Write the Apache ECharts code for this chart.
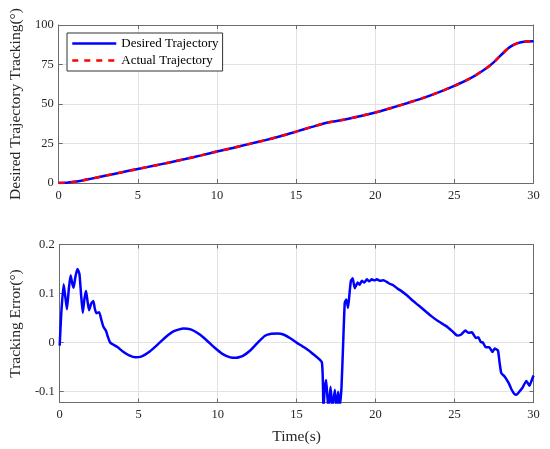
<!DOCTYPE html>
<html>
<head>
<meta charset="utf-8">
<script src="https://cdn.jsdelivr.net/npm/echarts@6/dist/echarts.min.js"></script>
<style>
html,body{margin:0;padding:0;background:#fff;}
#c{width:550px;height:449px;}
</style>
</head>
<body>
<div id="c"></div>
<script>
// ---- data ----
const trajTime = [0,0.5,1,1.5,2,3,4,5,6,7,8,9,10,11,12,13,14,15,16,17,18,19,20,21,22,23,24,25,26,27,27.5,28,28.5,29,29.5,30];
const desiredTraj = [0,0.2,0.8,1.6,2.6,4.7,6.8,8.9,10.9,13,15.2,17.5,19.9,22.2,24.6,27,29.6,32.5,35.5,38.3,40,42.2,44.6,47.5,50.5,53.7,57.4,61.5,66.2,72.5,76.5,81.5,86,88.5,89.5,89.7];
const actualTraj  = [0,0.2,0.8,1.6,2.6,4.7,6.8,8.9,10.9,13,15.2,17.5,19.9,22.2,24.6,27,29.6,32.5,35.5,38.3,40,42.2,44.6,47.5,50.5,53.7,57.4,61.5,66.2,72.5,76.5,81.5,86,88.5,89.5,89.7];

const errTime = [0,0.1,0.25,0.35,0.46,0.58,0.69,0.8,0.88,1.0,1.13,1.25,1.35,1.46,1.57,1.67,1.76,1.86,2.0,2.13,2.22,2.32,2.5,2.65,2.76,2.93,3.05,3.2,3.66,4.0,4.4,4.81,5.2,5.7,6.2,6.7,7.2,7.84,8.3,8.8,9.3,9.8,10.3,10.8,11.19,11.6,12.1,12.6,13.0,13.4,13.8,14.2,14.6,15.0,15.5,16.0,16.6,16.7,16.78,16.87,16.95,17.02,17.15,17.27,17.42,17.55,17.63,17.72,17.84,17.95,18.05,18.15,18.26,18.35,18.44,18.55,18.68,18.87,19.0,19.13,19.28,19.45,19.6,19.76,19.93,20.08,20.3,20.5,20.7,20.9,21.12,21.4,21.64,22.0,22.27,22.6,22.9,23.2,23.53,23.95,24.3,24.57,24.9,25.16,25.4,25.68,25.9,26.1,26.35,26.5,26.66,26.8,26.98,27.2,27.4,27.54,27.75,27.85,27.96,28.17,28.44,28.6,28.8,28.93,29.1,29.28,29.55,29.74,29.85,30];
const errValue = [-0.006,0.06,0.119,0.095,0.068,0.11,0.1375,0.12,0.112,0.135,0.15,0.14,0.1,0.061,0.09,0.105,0.085,0.066,0.08,0.085,0.07,0.06,0.062,0.045,0.033,0.024,0.012,0.0,-0.009,-0.018,-0.026,-0.03,-0.028,-0.018,-0.004,0.011,0.023,0.029,0.027,0.018,0.005,-0.01,-0.023,-0.03,-0.031,-0.027,-0.015,0.002,0.014,0.018,0.0185,0.016,0.009,0.0,-0.01,-0.022,-0.04,-0.135,-0.095,-0.076,-0.11,-0.135,-0.09,-0.135,-0.096,-0.135,-0.1,-0.13,-0.093,0.0,0.0815,0.088,0.071,0.1,0.126,0.131,0.111,0.1225,0.118,0.126,0.1225,0.129,0.125,0.129,0.127,0.129,0.126,0.127,0.124,0.12,0.117,0.11,0.105,0.096,0.088,0.079,0.071,0.063,0.054,0.044,0.037,0.0315,0.022,0.0145,0.016,0.0245,0.02,0.021,0.0095,0.011,0.0015,0.0,-0.0095,-0.0095,-0.019,-0.012,-0.016,-0.04,-0.062,-0.069,-0.083,-0.095,-0.105,-0.106,-0.1,-0.093,-0.078,-0.088,-0.08,-0.067];

const xTicks = {min:0, max:30, interval:5};
const topY = {min:0, max:100, interval:25};
const botY = {min:-0.122, max:0.2, step:0.1};

// ---- styling ----
const FONT = 'Liberation Serif';
const AX = '#6b6b6b';
const TXT = '#262626';
const GRIDC = '#e2e2e2';

function zip(a,b){return a.map((v,i)=>[v,b[i]]);}

function xAx(grid, pos, labels, name){
  return {
    type:'value', gridIndex:grid, position:pos,
    min:xTicks.min, max:xTicks.max, interval:xTicks.interval,
    axisLine:{show:true, onZero:false, lineStyle:{color:AX,width:1}},
    axisTick:{show:true, inside:true, length:4, lineStyle:{color:AX}},
    axisLabel:{show:labels, color:TXT, fontFamily:FONT, fontSize:12.5, margin:6},
    splitLine:{show:labels, lineStyle:{color:GRIDC,width:1}},
    name: name||'', nameLocation:'middle', nameGap:26,
    nameTextStyle:{color:TXT, fontFamily:FONT, fontSize:15.5}
  };
}
function yAxTop(pos, labels, name){
  return {
    type:'value', gridIndex:0, position:pos,
    min:topY.min, max:topY.max, interval:topY.interval,
    axisLine:{show:true, onZero:false, lineStyle:{color:AX,width:1}},
    axisTick:{show:true, inside:true, length:4, lineStyle:{color:AX}},
    axisLabel:{show:labels, color:TXT, fontFamily:FONT, fontSize:12.5, margin:5},
    splitLine:{show:labels, lineStyle:{color:GRIDC,width:1}},
    name: name||'', nameLocation:'middle', nameGap:31,
    nameTextStyle:{color:TXT, fontFamily:FONT, fontSize:15.5}
  };
}
function yAxBot(pos, labels, name){
  return {
    type:'value', gridIndex:1, position:pos,
    min:botY.min, max:botY.max, splitNumber:3,
    minInterval:botY.step, maxInterval:botY.step,
    axisLine:{show:true, onZero:false, lineStyle:{color:AX,width:1}},
    axisTick:{show:true, inside:true, length:4, lineStyle:{color:AX}},
    axisLabel:{show:labels, showMinLabel:false, color:TXT, fontFamily:FONT, fontSize:12.5, margin:5},
    splitLine:{show:labels, lineStyle:{color:GRIDC,width:1}},
    name: name||'', nameLocation:'middle', nameGap:31,
    nameTextStyle:{color:TXT, fontFamily:FONT, fontSize:15.5}
  };
}

const chart = echarts.init(document.getElementById('c'), null, {renderer:'canvas'});
chart.setOption({
  animation:false,
  backgroundColor:'#fff',
  grid:[
    {left:55, right:16.5, top:25, height:158},
    {left:55, right:16.5, top:244.5, height:158}
  ],
  legend:{
    left:67, top:33, orient:'vertical',
    itemWidth:44, itemHeight:14, itemGap:4,
    padding:[4,4,4,4],
    borderColor:'#333', borderWidth:1, backgroundColor:'#fff',
    itemStyle:{opacity:0, borderWidth:0},
    lineStyle:{width:2.5},
    textStyle:{color:'#000', fontFamily:FONT, fontSize:13},
    data:['Desired Trajectory','Actual Trajectory']
  },
  xAxis:[
    xAx(0,'bottom',true),
    xAx(0,'top',false),
    xAx(1,'bottom',true,'Time(s)'),
    xAx(1,'top',false)
  ],
  yAxis:[
    yAxTop('left',true,'Desired Trajectory Tracking(°)'),
    yAxTop('right',false),
    yAxBot('left',true,'Tracking Error(°)'),
    yAxBot('right',false)
  ],
  series:[
    {name:'Desired Trajectory', type:'line', xAxisIndex:0, yAxisIndex:0,
     data:zip(trajTime,desiredTraj), showSymbol:false, symbol:'none', smooth:0.3,
     lineStyle:{color:'#0000ff', width:2.5}, itemStyle:{color:'#0000ff'}, z:3},
    {name:'Actual Trajectory', type:'line', xAxisIndex:0, yAxisIndex:0,
     data:zip(trajTime,actualTraj), showSymbol:false, symbol:'none', smooth:0.3,
     lineStyle:{color:'#ff0000', width:2.5, type:[6,6]}, itemStyle:{color:'#ff0000'}, z:4},
    {name:'Tracking Error', type:'line', xAxisIndex:2, yAxisIndex:2,
     data:zip(errTime,errValue), showSymbol:false, symbol:'none', smooth:0.15,
     lineStyle:{color:'#0000ff', width:2.5}, itemStyle:{color:'#0000ff'}, z:3}
  ]
});
</script>
</body>
</html>
